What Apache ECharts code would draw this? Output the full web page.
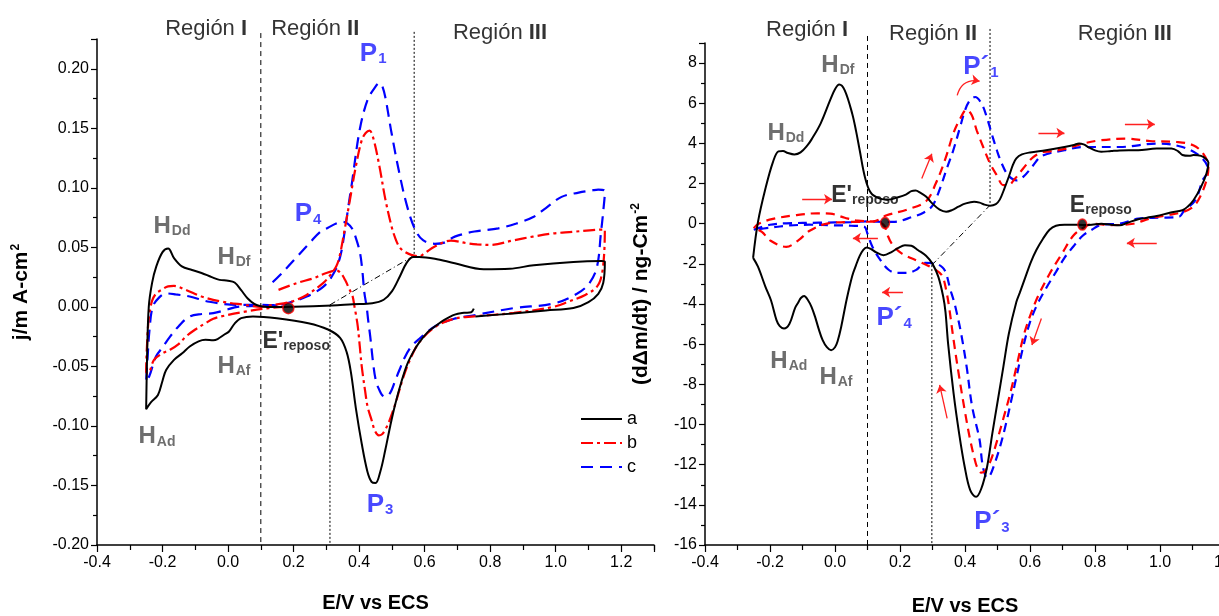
<!DOCTYPE html>
<html>
<head>
<meta charset="utf-8">
<script src="https://cdn.jsdelivr.net/npm/echarts/dist/echarts.min.js"></script>
<style>
html,body{margin:0;padding:0;background:#fff;}
#chart{width:1219px;height:616px;}
</style>
</head>
<body>
<div id="chart"></div>
<script>
// ---- Left panel: current density j (mA cm^-2) vs E (V vs ECS) ----
const jA = [[0.755,-0.008],[0.87,-0.0055],[0.97,-0.003],[1.054,-0.001],[1.1,0.004],[1.13,0.011],[1.145,0.02],[1.15,0.038],
 [1.14,0.0385],[1.054,0.0378],[0.933,0.035],[0.86,0.032],[0.78,0.0316],[0.692,0.0366],[0.631,0.0405],[0.583,0.042],[0.565,0.042],[0.545,0.037],[0.525,0.026],[0.5,0.013],[0.475,0.006],[0.44,0.003],[0.38,0.0022],[0.317,0.0012],[0.2,0.0002],[0.12,0.0],[0.1,0.0005],[0.08,0.0025],[0.06,0.007],[0.04,0.014],[0.02,0.0205],[0.0,0.022],[-0.026,0.0227],[-0.05,0.025],[-0.081,0.0285],[-0.11,0.031],[-0.141,0.034],[-0.165,0.041],[-0.183,0.049],[-0.2,0.046],[-0.219,0.034],[-0.232,0.02],[-0.242,0.0],[-0.247,-0.04],[-0.25,-0.086],
 [-0.235,-0.08],[-0.214,-0.074],[-0.2,-0.062],[-0.189,-0.053],[-0.165,-0.0445],[-0.14,-0.039],[-0.117,-0.0333],[-0.09,-0.029],[-0.069,-0.0277],[-0.045,-0.028],[-0.032,-0.027],[-0.01,-0.023],[0.003,-0.0207],[0.02,-0.014],[0.04,-0.0095],[0.076,-0.008],[0.149,-0.0095],[0.245,-0.0137],[0.305,-0.019],[0.342,-0.026],[0.362,-0.038],[0.375,-0.055],[0.39,-0.085],[0.408,-0.115],[0.425,-0.138],[0.438,-0.147],[0.45,-0.148],[0.465,-0.138],[0.48,-0.12],[0.495,-0.1],[0.51,-0.082],[0.53,-0.062],[0.547,-0.048],[0.565,-0.038],[0.583,-0.03],[0.61,-0.021],[0.631,-0.0165],[0.66,-0.011],[0.692,-0.0065],[0.72,-0.005],[0.742,-0.0045],[0.75,-0.0015]];

const jB = [[0.154,0.0143],[0.21,0.02],[0.26,0.024],[0.3,0.0285],[0.332,0.0305],[0.345,0.028],[0.357,0.0227],[0.37,0.015],[0.38,0.009],[0.386,0.0],[0.39,-0.006],[0.396,-0.0165],[0.402,-0.033],[0.408,-0.05],[0.418,-0.07],[0.426,-0.084],[0.438,-0.095],[0.448,-0.104],[0.46,-0.108],[0.47,-0.107],[0.48,-0.103],[0.492,-0.096],[0.511,-0.081],[0.535,-0.059],[0.559,-0.042],[0.583,-0.03],[0.631,-0.017],[0.69,-0.01],[0.751,-0.008],[0.873,-0.005],[0.993,0.0],[1.04,0.0045],[1.09,0.01],[1.126,0.017],[1.14,0.026],[1.148,0.045],[1.15,0.065],
 [1.12,0.0647],[1.05,0.063],[0.993,0.0617],[0.93,0.059],[0.873,0.056],[0.8,0.052],[0.76,0.0525],[0.728,0.0535],[0.68,0.0557],[0.631,0.0507],[0.6,0.045],[0.583,0.0425],[0.559,0.0437],[0.535,0.047],[0.522,0.0507],[0.51,0.058],[0.499,0.0675],[0.48,0.0905],[0.462,0.118],[0.444,0.141],[0.432,0.148],[0.42,0.146],[0.408,0.14],[0.39,0.118],[0.372,0.09],[0.354,0.062],[0.34,0.042],[0.33,0.034],[0.31,0.026],[0.29,0.02],[0.24,0.01],[0.2,0.005],[0.17,0.003],[0.12,0.001],[0.1,0.0],[0.052,0.0017],[-0.021,0.0045],[-0.081,0.0087],[-0.129,0.0143],[-0.165,0.0176],[-0.183,0.0172],[-0.205,0.014],[-0.219,0.0115],[-0.232,0.005],[-0.242,-0.01],[-0.247,-0.03],[-0.25,-0.055],
 [-0.244,-0.0557],[-0.226,-0.0445],[-0.2,-0.039],[-0.177,-0.036],[-0.15,-0.031],[-0.129,-0.025],[-0.1,-0.019],[-0.069,-0.0137],[-0.045,-0.01],[-0.021,-0.008],[0.052,-0.004],[0.125,-0.001],[0.175,0.0]];

const jC = [[0.136,0.0207],[0.17,0.03],[0.21,0.042],[0.25,0.054],[0.281,0.063],[0.305,0.0665],[0.33,0.07],[0.35,0.0715],[0.365,0.07],[0.378,0.066],[0.39,0.058],[0.403,0.045],[0.41,0.03],[0.416,0.012],[0.423,0.0],[0.428,-0.012],[0.434,-0.025],[0.444,-0.05],[0.452,-0.063],[0.462,-0.07],[0.47,-0.074],[0.48,-0.0755],[0.49,-0.074],[0.499,-0.07],[0.51,-0.062],[0.523,-0.053],[0.54,-0.042],[0.559,-0.0333],[0.583,-0.027],[0.631,-0.0165],[0.69,-0.01],[0.751,-0.007],[0.873,-0.001],[0.993,0.0028],[1.066,0.0112],[1.102,0.0196],[1.126,0.0336],[1.138,0.062],[1.145,0.08],[1.15,0.097],
 [1.13,0.0985],[1.114,0.098],[1.07,0.096],[1.018,0.0924],[0.97,0.083],[0.933,0.0757],[0.88,0.07],[0.825,0.066],[0.752,0.0633],[0.692,0.059],[0.66,0.054],[0.631,0.053],[0.595,0.056],[0.571,0.065],[0.547,0.084],[0.523,0.112],[0.499,0.146],[0.48,0.176],[0.47,0.186],[0.462,0.188],[0.45,0.185],[0.426,0.174],[0.402,0.149],[0.378,0.104],[0.367,0.084],[0.357,0.065],[0.342,0.042],[0.322,0.028],[0.291,0.017],[0.24,0.0087],[0.179,0.003],[0.149,0.0014],[0.1,0.0017],[0.028,0.0017],[-0.057,0.0043],[-0.117,0.0087],[-0.16,0.0105],[-0.189,0.0113],[-0.21,0.008],[-0.23,0.0],[-0.24,-0.02],[-0.245,-0.04],[-0.25,-0.063],
 [-0.24,-0.058],[-0.22,-0.0417],[-0.2,-0.034],[-0.177,-0.025],[-0.15,-0.016],[-0.117,-0.008],[-0.08,-0.006],[-0.045,-0.0053],[0.0,-0.002],[0.028,0.0],[0.1,0.001],[0.17,0.0014]];

// ---- Right panel: mass-change rate d(Δm)/dt (ng cm^-2 s^-1) vs E ----
const mA = [[-0.252,-1.7],[-0.237,0.09],[-0.214,1.75],[-0.191,3.07],[-0.174,3.6],[-0.16,3.62],[-0.145,3.52],[-0.125,3.45],[-0.106,3.55],[-0.085,3.9],[-0.072,4.2],[-0.044,5.0],[-0.015,6.15],[0.0,6.7],[0.013,6.93],[0.03,6.64],[0.053,5.48],[0.065,4.6],[0.076,3.66],[0.092,2.33],[0.11,1.55],[0.138,1.25],[0.165,1.2],[0.19,1.3],[0.218,1.45],[0.235,1.62],[0.248,1.65],[0.262,1.55],[0.28,1.35],[0.3,1.0],[0.322,0.7],[0.342,0.6],[0.36,0.68],[0.38,0.85],[0.4,1.0],[0.428,1.1],[0.445,1.05],[0.46,0.95],[0.477,0.9],[0.495,0.98],[0.507,1.2],[0.52,1.7],[0.535,2.35],[0.548,2.95],[0.558,3.25],[0.575,3.45],[0.6,3.55],[0.649,3.66],[0.706,3.82],[0.735,3.92],[0.751,4.0],[0.765,3.95],[0.779,3.82],[0.8,3.65],[0.819,3.58],[0.85,3.62],[0.876,3.65],[0.933,3.66],[0.99,3.74],[1.035,3.74],[1.055,3.62],[1.069,3.42],[1.09,3.38],[1.103,3.42],[1.126,3.38],[1.14,3.25],[1.149,3.05],
 [1.143,2.5],[1.126,1.82],[1.103,1.17],[1.085,0.85],[1.069,0.67],[1.03,0.55],[0.99,0.38],[0.96,0.3],[0.933,0.22],[0.9,0.05],[0.876,-0.08],[0.85,-0.05],[0.819,0.0],[0.79,-0.05],[0.764,-0.06],[0.73,-0.05],[0.706,-0.05],[0.68,-0.1],[0.66,-0.3],[0.64,-0.75],[0.62,-1.3],[0.603,-1.9],[0.585,-2.7],[0.569,-3.42],[0.558,-3.9],[0.535,-5.47],[0.518,-7.13],[0.501,-8.79],[0.484,-10.45],[0.468,-12.1],[0.45,-13.2],[0.434,-13.6],[0.416,-13.27],[0.399,-12.1],[0.382,-10.45],[0.365,-8.46],[0.348,-5.97],[0.34,-4.4],[0.333,-3.64],[0.318,-2.65],[0.3,-2.0],[0.28,-1.6],[0.256,-1.32],[0.235,-1.1],[0.215,-1.07],[0.195,-1.2],[0.175,-1.4],[0.149,-1.57],[0.127,-1.43],[0.11,-1.25],[0.097,-1.18],[0.087,-1.3],[0.076,-1.6],[0.065,-2.05],[0.053,-2.6],[0.036,-3.76],[0.019,-5.14],[0.008,-5.85],[0.0,-6.15],[-0.012,-6.3],[-0.025,-6.15],[-0.038,-5.8],[-0.05,-5.25],[-0.061,-4.65],[-0.072,-4.15],[-0.083,-3.81],[-0.095,-3.6],[-0.105,-3.7],[-0.113,-3.92],[-0.123,-4.2],[-0.14,-4.98],[-0.157,-5.22],[-0.17,-5.1],[-0.18,-4.8],[-0.197,-3.81],[-0.214,-3.14],[-0.237,-2.14],[-0.252,-1.7]];

const mB = [[-0.25,-0.22],[-0.235,0.0],[-0.191,0.24],[-0.123,0.42],[-0.055,0.52],[-0.015,0.5],[0.03,0.3],[0.07,0.15],[0.118,0.12],[0.159,0.42],[0.221,0.7],[0.28,1.12],[0.31,2.0],[0.34,3.25],[0.364,4.49],[0.385,5.23],[0.405,5.68],[0.421,5.4],[0.436,4.65],[0.456,3.82],[0.477,3.0],[0.498,2.41],[0.518,1.92],[0.533,1.92],[0.554,2.25],[0.579,2.75],[0.61,3.32],[0.641,3.57],[0.662,3.6],[0.713,3.74],[0.764,3.99],[0.815,4.15],[0.897,4.24],[0.969,4.12],[1.051,4.07],[1.102,3.91],[1.133,3.49],[1.149,2.83],[1.143,2.16],[1.123,1.33],[1.102,0.84],[1.072,0.59],[1.02,0.42],[0.969,0.26],[0.918,0.0],[0.846,-0.07],[0.795,0.0],[0.764,-0.2],[0.733,-0.6],[0.7,-1.45],[0.66,-2.5],[0.625,-3.6],[0.6,-4.6],[0.58,-5.6],[0.56,-7.0],[0.54,-8.4],[0.518,-9.7],[0.497,-10.9],[0.479,-11.8],[0.462,-12.3],[0.45,-12.4],[0.44,-12.2],[0.433,-11.93],[0.416,-10.77],[0.399,-9.28],[0.382,-7.62],[0.365,-5.8],[0.351,-4.14],[0.342,-3.3],[0.33,-2.6],[0.311,-2.31],[0.264,-1.92],[0.205,-1.48],[0.175,-1.0],[0.16,-0.5],[0.152,-0.1],[0.13,0.1],[0.058,0.09],[-0.021,0.02],[-0.078,-0.35],[-0.112,-0.82],[-0.15,-1.15],[-0.198,-0.85],[-0.225,-0.41],[-0.25,-0.22]];

const mC = [[-0.25,-0.3],[-0.2,-0.05],[-0.15,0.02],[-0.05,0.05],[0.05,0.08],[0.1,0.12],[0.13,0.1],[0.179,0.09],[0.24,0.35],[0.272,0.55],[0.3,0.9],[0.323,1.75],[0.344,2.75],[0.364,3.66],[0.385,4.82],[0.4,5.65],[0.415,6.14],[0.431,6.31],[0.451,5.98],[0.467,5.31],[0.482,4.49],[0.498,3.66],[0.513,3.0],[0.533,2.41],[0.559,2.16],[0.579,2.33],[0.61,2.91],[0.631,3.32],[0.656,3.49],[0.706,3.66],[0.762,3.82],[0.876,3.82],[0.99,3.99],[1.069,3.82],[1.126,3.32],[1.149,2.66],[1.131,2.16],[1.109,1.17],[1.075,0.67],[1.058,0.34],[1.0,0.3],[0.933,0.25],[0.876,0.0],[0.82,-0.05],[0.79,-0.3],[0.762,-0.6],[0.73,-1.2],[0.706,-1.7],[0.68,-2.4],[0.65,-3.2],[0.62,-4.1],[0.598,-5.0],[0.578,-6.2],[0.56,-7.5],[0.545,-8.6],[0.527,-9.9],[0.508,-11.1],[0.49,-12.0],[0.478,-12.5],[0.468,-12.65],[0.458,-12.3],[0.452,-11.8],[0.445,-10.77],[0.422,-9.11],[0.405,-7.12],[0.388,-5.46],[0.374,-4.39],[0.365,-3.81],[0.354,-3.23],[0.342,-2.48],[0.331,-2.18],[0.308,-1.98],[0.277,-1.95],[0.25,-2.3],[0.221,-2.45],[0.19,-2.45],[0.164,-2.28],[0.135,-1.7],[0.113,-1.07],[0.1,-0.5],[0.09,-0.15],[0.05,-0.1],[0.0,-0.08],[-0.08,-0.05],[-0.15,-0.1],[-0.2,-0.2],[-0.25,-0.3]];

// rest potentials marked on each panel
const restL = [[0.184,-0.0011]];
const restR = [[0.154,0.04],[0.761,-0.04]];

// region boundaries and guide lines
const guideL_dash = [[0.1,0.23],[0.1,-0.2]];
const guideL_dot1 = [[0.311,0.0017],[0.311,-0.2]];
const guideL_dot2 = [[0.568,0.231],[0.568,0.042]];
const guideL_dashdot = [[0.311,0.0017],[0.561,0.042]];
const guideR_dash = [[0.1,9.35],[0.1,-16]];
const guideR_dot1 = [[0.298,-2.06],[0.298,-16]];
const guideR_dot2 = [[0.477,9.7],[0.477,0.92]];
const guideR_dashdot = [[0.298,-2.06],[0.477,0.92]];

// scan-direction arrows on the right panel
const arrowsR = [
  [[-0.101,1.22],[-0.009,1.22]],
  [[0.132,-0.72],[0.055,-0.72]],
  [[0.209,-3.41],[0.145,-3.41]],
  [[0.267,2.25],[0.298,3.49]],
  [[0.626,4.52],[0.706,4.52]],
  [[0.892,4.95],[0.984,4.95]],
  [[0.99,-0.96],[0.898,-0.96]],
  [[0.635,-4.72],[0.606,-6.04]],
  [[0.345,-9.69],[0.322,-8.03]]
];
const arcArrowR = [[[0.376,6.39],[0.445,7.1]]];

// axis ticks
const xTicks = {min:-0.4, step:0.2};
const yTicksL = {min:-0.2, max:0.225, step:0.05};
const yTicksR = {min:-16, max:9, step:2};

// text annotations: [E, value, rich text]
const notesL = [
  [-0.067,0.2336,'{r|Región }{b|I}'],
  [0.266,0.2336,'{r|Región }{b|II}'],
  [0.83,0.230,'{r|Región }{b|III}'],
  [0.443,0.2126,'{p|P}{ps|1}'],
  [0.244,0.078,'{p|P}{ps|4}'],
  [-0.171,0.068,'{h|H}{hs|Dd}'],
  [0.018,0.042,'{h|H}{hs|Df}'],
  [0.208,-0.0294,"{e|E'}{es|reposo}"],
  [0.018,-0.050,'{h|H}{hs|Af}'],
  [-0.217,-0.109,'{h|H}{hs|Ad}'],
  [0.464,-0.166,'{p|P}{ps|3}']
];
const notesR = [
  [-0.086,9.63,'{r|Región }{b|I}'],
  [0.302,9.43,'{r|Región }{b|II}'],
  [0.892,9.43,'{r|Región }{b|III}'],
  [0.009,7.89,'{h|H}{hs|Df}'],
  [-0.151,4.5,'{h|H}{hs|Dd}'],
  [0.092,1.42,"{e|E'}{es|reposo}"],
  [0.818,0.92,'{e|E}{es|reposo}'],
  [0.449,7.79,'{p|P´}{ps|1}'],
  [0.182,-4.7,'{p|P´}{ps|4}'],
  [-0.142,-6.84,'{h|H}{hs|Ad}'],
  [0.003,-7.64,'{h|H}{hs|Af}'],
  [0.483,-14.85,'{p|P´}{ps|3}']
];

const FONT = '"Liberation Sans Narrow","Arial Narrow","Liberation Sans",Arial,sans-serif';
const BLUE = '#1a1aff';
const GREY = '#4a4a4a';

const rich = {
  r:{fontSize:22,fontFamily:FONT,color:'#000'},
  b:{fontSize:22,fontFamily:FONT,fontWeight:'bold',color:'#000'},
  p:{fontSize:26,fontFamily:FONT,fontWeight:'bold',color:BLUE,lineHeight:26,verticalAlign:'top'},
  ps:{fontSize:15,fontFamily:FONT,fontWeight:'bold',color:BLUE,lineHeight:15,verticalAlign:'bottom',padding:[19,0,0,1]},
  h:{fontSize:24,fontFamily:FONT,fontWeight:'bold',color:GREY,lineHeight:24,verticalAlign:'top'},
  hs:{fontSize:14,fontFamily:FONT,fontWeight:'bold',color:GREY,lineHeight:14,verticalAlign:'bottom',padding:[16,0,0,1]},
  e:{fontSize:23,fontFamily:FONT,fontWeight:'bold',color:'#000',lineHeight:23,verticalAlign:'top'},
  es:{fontSize:14,fontFamily:FONT,fontWeight:'bold',color:'#000',lineHeight:14,verticalAlign:'bottom',padding:[15,0,0,0]}
};

function curve(name, data, color, dash, width, ai, z) {
  return {type:'line', name:name, data:data, xAxisIndex:ai, yAxisIndex:ai, smooth:0.35,
    symbol:'none', showSymbol:false, silent:true, z:z,
    lineStyle:{color:color, width:width, type:dash}, itemStyle:{color:color}};
}
function guide(data, dash, ai) {
  return {type:'line', data:data, xAxisIndex:ai, yAxisIndex:ai, symbol:'none', clip:false, silent:true, z:1,
    lineStyle:{color:'#000', width:1, type:dash}};
}
function notes(data, ai) {
  return {type:'scatter', xAxisIndex:ai, yAxisIndex:ai, clip:false, silent:true, z:10, symbolSize:1,
    itemStyle:{color:'rgba(0,0,0,0)'},
    data:data.map(n => ({value:[n[0],n[1]], label:{formatter:n[2]}})),
    label:{show:true, position:'inside', align:'center', verticalAlign:'middle', rich:rich}};
}
function dots(data, ai, size) {
  return {type:'scatter', xAxisIndex:ai, yAxisIndex:ai, data:data, symbol:'circle', symbolSize:size, z:12, silent:true,
    itemStyle:{color:'#000', borderColor:'#ff0000', borderWidth:1.5}};
}

function xAxis(ai, max, showMax, gap) {
  return {type:'value', gridIndex:ai, min:xTicks.min, max:max, interval:xTicks.step,
    axisLine:{onZero:false, lineStyle:{color:'#000', width:1.5}},
    axisTick:{length:7, lineStyle:{color:'#000', width:1.2}},
    minorTick:{show:true, splitNumber:2, length:5, lineStyle:{color:'#000', width:1.2}},
    splitLine:{show:false},
    axisLabel:{color:'#000', fontSize:16, fontFamily:FONT, margin:10, showMaxLabel:showMax, hideOverlap:false,
      formatter:v => v.toFixed(1)},
    name:'E/V vs ECS', nameLocation:'middle', nameGap:gap,
    nameTextStyle:{fontSize:20, fontWeight:'bold', fontFamily:FONT, color:'#000'}};
}
function yAxis(ai, t, digits, title, gap) {
  return {type:'value', gridIndex:ai, min:t.min, max:t.max, interval:t.step,
    axisLine:{onZero:false, lineStyle:{color:'#000', width:1.5}},
    axisTick:{length:6, lineStyle:{color:'#000', width:1.2}},
    minorTick:{show:true, splitNumber:2, length:4, lineStyle:{color:'#000', width:1.2}},
    splitLine:{show:false},
    axisLabel:{color:'#000', fontSize:16, fontFamily:FONT, margin:8, showMaxLabel:false,
      formatter:v => v.toFixed(digits)},
    name:title, nameLocation:'middle', nameRotate:90, nameGap:gap,
    nameTextStyle:{color:'#000', rich:{
      t:{fontSize:21, fontWeight:'bold', fontFamily:FONT, color:'#000', lineHeight:22, verticalAlign:'bottom'},
      sup:{fontSize:12, fontWeight:'bold', fontFamily:FONT, color:'#000', lineHeight:12, verticalAlign:'top', padding:[0,0,12,1]}
    }}};
}

const chart = echarts.init(document.getElementById('chart'), null, {renderer:'canvas'});
chart.setOption({
  animation:false,
  backgroundColor:'#fff',
  grid:[{left:97, right:565, top:39, bottom:71, containLabel:false, outerBoundsMode:'none'},
        {left:705, right:-6, top:43, bottom:71, containLabel:false, outerBoundsMode:'none'}],
  xAxis:[xAxis(0, 1.3, false, 48), xAxis(1, 1.2, true, 51)],
  yAxis:[yAxis(0, yTicksL, 2, '{t|j/m A-cm}{sup|2}', 65), yAxis(1, yTicksR, 0, '{t|(dΔm/dt) / ng-Cm}{sup|-2}', 53)],
  legend:{data:['a','b','c'], orient:'vertical', left:575, top:405, itemWidth:41, itemHeight:18, itemGap:6,
    itemStyle:{opacity:0}, textStyle:{fontSize:18, fontFamily:FONT, color:'#000'}},
  series:[
    guide(guideL_dash,[5,4],0), guide(guideL_dot1,[2,2],0), guide(guideL_dot2,[2,2],0), guide(guideL_dashdot,[6,3,1,3],0),
    guide(guideR_dash,[5,4],1), guide(guideR_dot1,[2,2],1), guide(guideR_dot2,[2,2],1), guide(guideR_dashdot,[6,3,1,3],1),
    curve('c', jC, '#0000ff', [12,7], 2.2, 0, 3),
    curve('b', jB, '#ff0000', [12,4,3,4], 2.2, 0, 4),
    curve('a', jA, '#000000', 'solid', 2, 0, 5),
    curve('mc', mC, '#0000ff', [9,6], 2.2, 1, 3),
    curve('mb', mB, '#ff0000', [9,6], 2.2, 1, 4),
    curve('ma', mA, '#000000', 'solid', 2, 1, 5),
    {type:'lines', coordinateSystem:'cartesian2d', xAxisIndex:1, yAxisIndex:1, z:8, silent:true,
      symbol:['none','arrow'], symbolSize:8,
      lineStyle:{color:'#ff2020', width:1.3, curveness:0, opacity:1},
      data:arrowsR.map(a => ({coords:a}))},
    {type:'lines', coordinateSystem:'cartesian2d', xAxisIndex:1, yAxisIndex:1, z:8, silent:true,
      symbol:['none','arrow'], symbolSize:8,
      lineStyle:{color:'#ff2020', width:1.3, curveness:0.45, opacity:1},
      data:arcArrowR.map(a => ({coords:a}))},
    dots(restL, 0, 11),
    dots(restR, 1, [9,11]),
    notes(notesL, 0),
    notes(notesR, 1)
  ]
});
</script>
</body>
</html>
